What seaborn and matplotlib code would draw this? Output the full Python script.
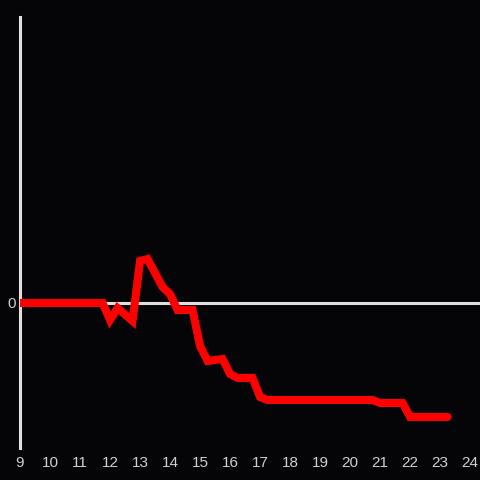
import pandas as pd
import seaborn as sns
import matplotlib.pyplot as plt

# breakpoints of the line (hour of day, value)
hours = [9.0, 11.75, 12.0, 12.25, 12.75, 13.0, 13.25, 13.75, 14.0, 14.25, 14.75,
         15.0, 15.25, 15.75, 16.0, 16.25, 16.75, 17.0, 17.25, 20.75, 21.0, 21.75,
         22.0, 23.25]
values = [0, 0, -1.7, -0.5, -1.8, 4.2, 4.4, 1.6, 0.9, -0.7, -0.7,
          -4.3, -5.8, -5.6, -7.1, -7.5, -7.5, -9.4, -9.7, -9.7, -10.0, -10.0,
          -11.4, -11.4]
xticks = list(range(9, 25))

df = pd.DataFrame({'hour': hours, 'value': values})

bg = '#050407'
sns.set_theme(style='dark')
plt.rcParams['font.family'] = ['Liberation Sans', 'DejaVu Sans']

fig = plt.figure(figsize=(4.8, 4.8), dpi=100, facecolor=bg)
ax = fig.add_axes([20 / 480, 32 / 480, 460 / 480, 431 / 480])
ax.set_facecolor(bg)

#zero line
ax.axhline(0, color='#e0e0e0', lw=2.2, zorder=1)

sns.lineplot(data=df, x='hour', y='value', color='#ff0000', lw=5.8, ax=ax,
             zorder=3, solid_joinstyle='miter')

ax.set_xlim(9, 24.33)
ax.set_ylim(-14.5, 28.6)
ax.set_xticks(xticks)
ax.set_xticklabels([str(t) for t in xticks])
ax.set_yticks([0])
ax.set_yticklabels(['0'])
ax.tick_params(axis='both', length=0, colors='#d0d0d0', labelsize=11)
ax.tick_params(axis='x', pad=6)
ax.tick_params(axis='y', pad=3)
ax.set_xlabel('')
ax.set_ylabel('')
ax.grid(False)

for s in ['top', 'right', 'bottom']:
    ax.spines[s].set_visible(False)
ax.spines['left'].set_color('#e0e0e0')
ax.spines['left'].set_linewidth(2.2)

fig.savefig('out.png', dpi=100, facecolor=bg)
